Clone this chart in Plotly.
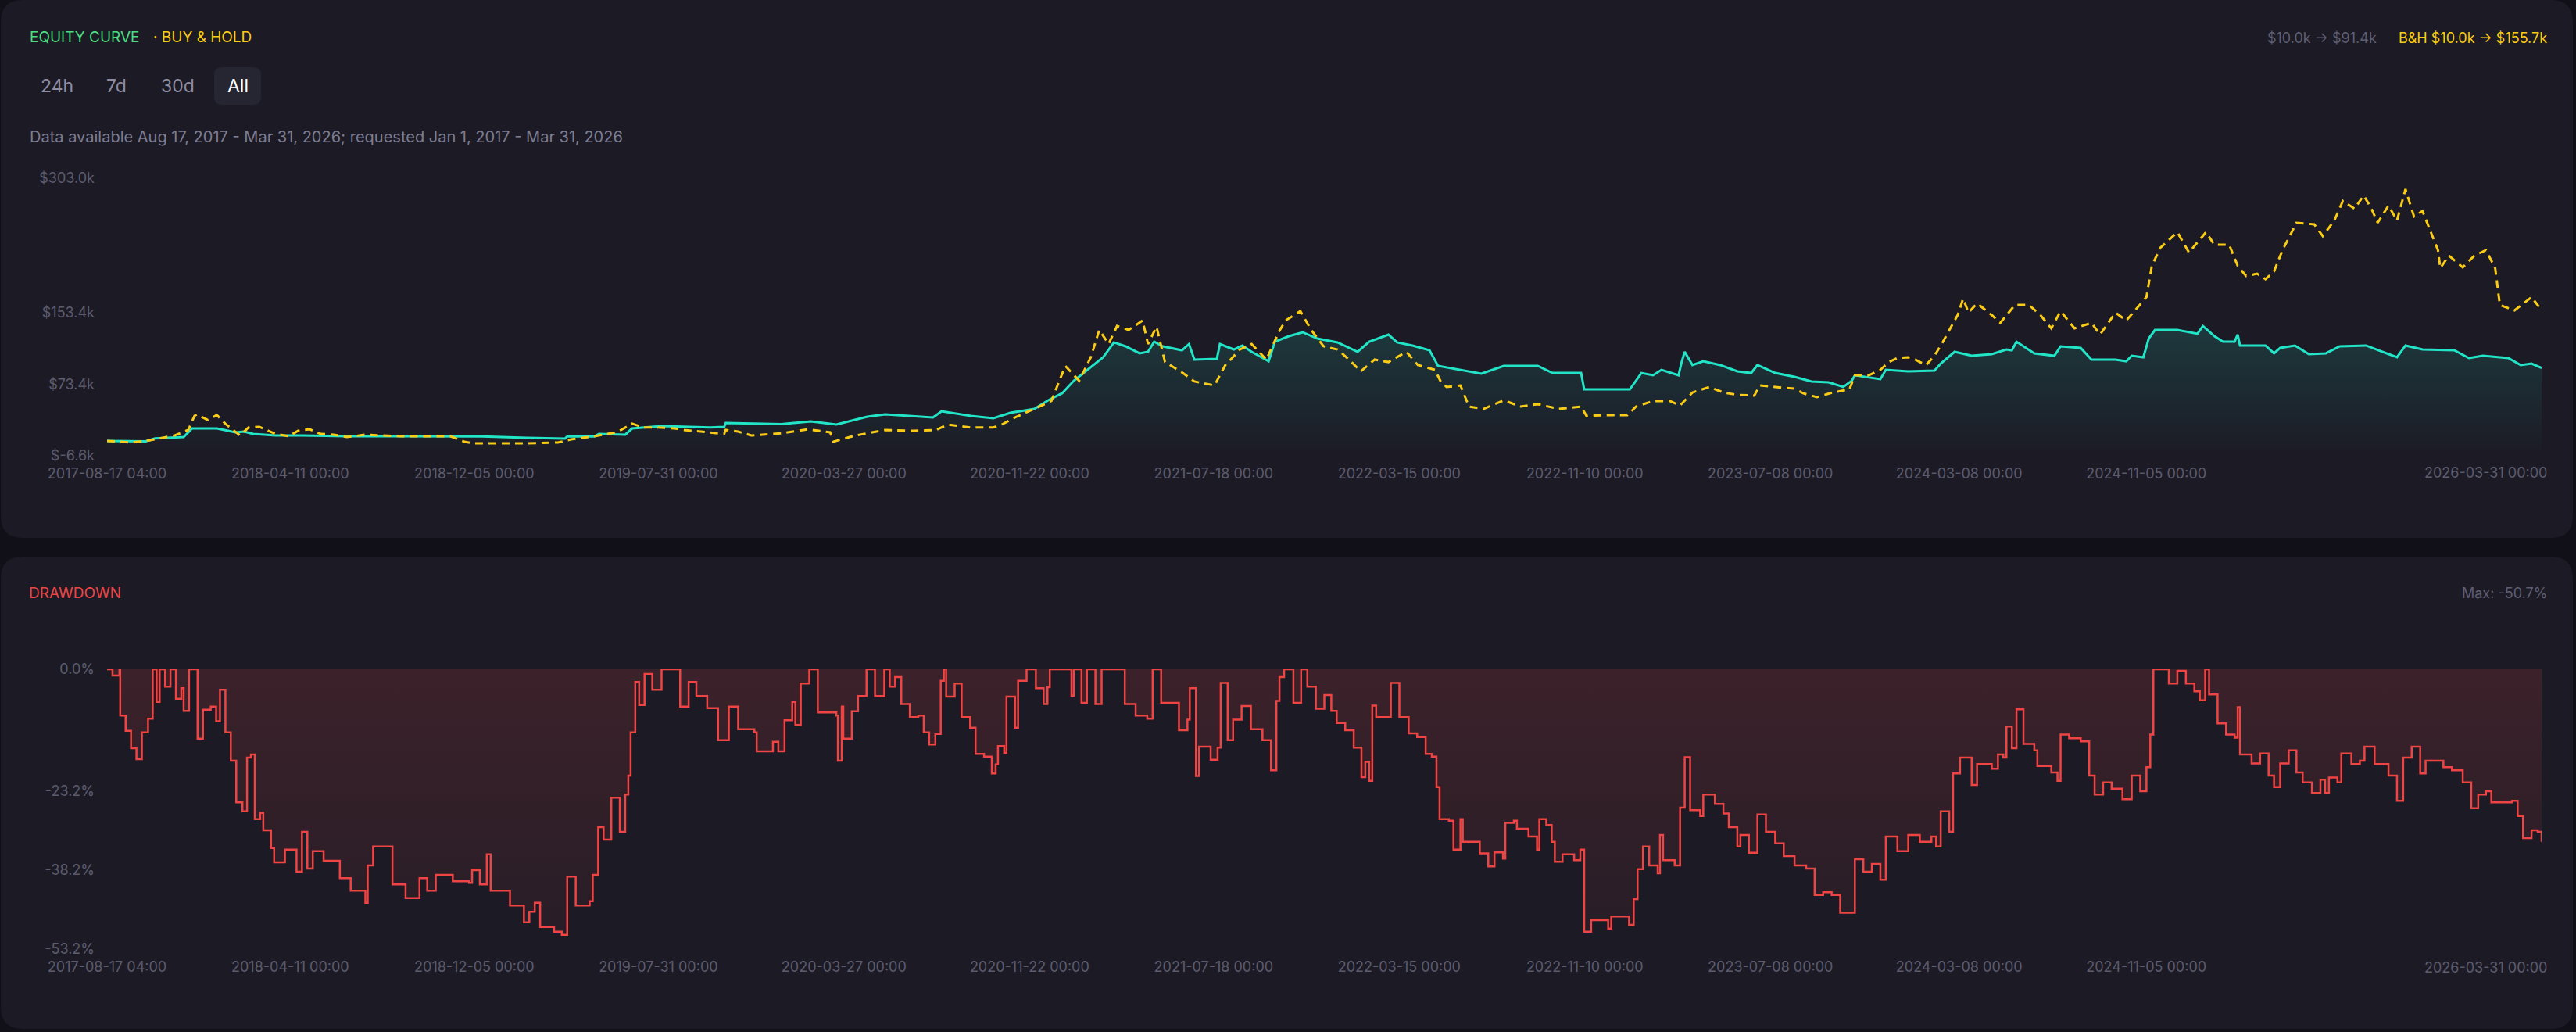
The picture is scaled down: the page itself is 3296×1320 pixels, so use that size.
import pandas as pd
import plotly.graph_objects as go

# canvas
W, H = 3296, 1320
PAGE = "#111018"
CARD = "#1c1b25"
TEAL = "#22e5c8"
GOLD = "#facc15"
RED = "#ef4444"
GREY = "#5c5b6e"

start = pd.Timestamp("2017-08-17 04:00")

# strategy equity, (days since start, value in $k)
eq_points = [
    (0, 10.0), (50, 9.5), (62, 12.8), (99, 14.3), (110, 23.9), (142, 24.0), (166, 19.6),
    (177, 20.4), (189, 17.8), (218, 16.1), (253, 16.0), (310, 15.2), (369, 15.2), (426, 15.2),
    (485, 15.0), (543, 13.5), (592, 12.6), (595, 15.0), (630, 15.0), (636, 17.8), (670, 17.0),
    (679, 23.9), (717, 26.5), (780, 25.0), (798, 25.7), (800, 30.0), (872, 28.8), (910, 31.8),
    (943, 28.3), (983, 37.0), (1006, 39.6), (1068, 36.1), (1079, 43.1), (1117, 37.9),
    (1146, 35.3), (1168, 41.3), (1199, 45.7), (1217, 55.3), (1235, 63.2), (1250, 77.1),
    (1268, 89.3), (1288, 103.3), (1302, 119.9), (1317, 115.5), (1335, 107.7), (1346, 109.4),
    (1354, 120.7), (1365, 115.5), (1390, 111.1), (1399, 118.1), (1406, 100.7), (1435, 101.5),
    (1439, 118.1), (1457, 112.0), (1468, 116.4), (1480, 109.4), (1502, 98.9), (1510, 120.7),
    (1528, 126.8), (1546, 131.2), (1565, 124.2), (1591, 119.9), (1617, 109.4), (1632, 120.7),
    (1657, 128.6), (1668, 119.9), (1688, 116.4), (1710, 111.1), (1721, 93.7), (1750, 89.3),
    (1777, 85.0), (1806, 93.7), (1850, 93.7), (1869, 85.8), (1906, 85.8), (1910, 67.5),
    (1969, 67.5), (1984, 85.8), (1999, 83.2), (2010, 89.3), (2032, 83.2), (2036, 98.0),
    (2040, 109.4), (2050, 94.6), (2064, 98.9), (2086, 94.6), (2108, 87.6), (2126, 85.8),
    (2134, 94.6), (2157, 85.8), (2182, 81.5), (2204, 76.3), (2226, 75.4), (2245, 70.2),
    (2256, 77.1), (2260, 83.2), (2293, 78.9), (2300, 89.3), (2329, 87.6), (2363, 88.5),
    (2371, 96.3), (2389, 109.4), (2411, 105.0), (2437, 106.8), (2456, 112.0), (2463, 111.1),
    (2469, 120.7), (2492, 107.7), (2518, 105.0), (2526, 115.5), (2552, 113.8), (2566, 100.7),
    (2597, 100.7), (2611, 98.9), (2618, 105.0), (2633, 103.3), (2640, 124.2), (2648, 133.8),
    (2677, 133.8), (2703, 129.5), (2710, 138.2), (2725, 126.8), (2736, 120.7), (2751, 120.7),
    (2755, 128.6), (2758, 116.4), (2791, 116.4), (2802, 107.7), (2810, 113.8), (2829, 116.4),
    (2847, 106.8), (2869, 107.7), (2887, 115.5), (2921, 116.4), (2961, 103.3), (2972, 116.4),
    (2994, 112.0), (3035, 111.1), (3054, 102.4), (3072, 105.0), (3105, 102.4), (3121, 94.6),
    (3135, 96.3), (3148, 91.4),
]

# buy & hold equity, (days since start, value in $k)
bh_points = [
    (0, 10.0), (32, 8.2), (56, 10.8), (87, 16.0), (105, 22.2), (113, 37.9), (116, 39.6),
    (130, 33.5), (142, 38.8), (154, 28.3), (172, 16.1), (183, 25.0), (197, 25.7), (218, 17.8),
    (235, 15.2), (247, 21.3), (262, 23.0), (276, 17.8), (293, 17.0), (310, 14.3), (334, 17.0),
    (357, 16.1), (380, 15.2), (415, 15.2), (444, 15.2), (462, 9.1), (473, 7.4), (496, 7.4),
    (543, 7.4), (583, 8.2), (600, 11.7), (630, 15.2), (659, 19.6), (679, 29.2), (693, 25.0),
    (710, 25.0), (734, 24.0), (746, 22.2), (775, 19.6), (798, 17.8), (800, 22.2), (816, 20.4),
    (833, 16.1), (872, 18.5), (906, 23.0), (935, 19.6), (939, 9.1), (968, 16.1), (1006, 22.2),
    (1043, 21.3), (1072, 22.2), (1087, 28.3), (1117, 25.0), (1146, 25.0), (1157, 28.3),
    (1176, 37.0), (1199, 45.7), (1221, 54.5), (1239, 93.7), (1257, 77.1), (1272, 103.3),
    (1283, 133.8), (1295, 118.1), (1306, 138.2), (1321, 133.8), (1339, 144.3), (1346, 118.1),
    (1357, 137.3), (1368, 98.0), (1391, 85.8), (1406, 76.3), (1432, 71.9), (1446, 94.6),
    (1465, 112.0), (1480, 118.1), (1499, 100.7), (1516, 133.0), (1524, 144.3), (1543, 154.8),
    (1550, 144.3), (1557, 133.8), (1573, 115.5), (1591, 112.0), (1606, 100.7), (1621, 87.6),
    (1639, 100.7), (1657, 98.0), (1680, 109.4), (1695, 94.6), (1717, 89.3), (1724, 77.1),
    (1732, 70.2), (1750, 71.9), (1761, 48.3), (1780, 45.7), (1806, 55.3), (1828, 48.3),
    (1850, 51.0), (1877, 45.7), (1906, 48.3), (1913, 37.9), (1939, 38.8), (1966, 38.8),
    (1977, 48.3), (1999, 54.5), (2021, 54.5), (2034, 49.5), (2050, 64.0), (2072, 70.2),
    (2090, 64.0), (2108, 61.4), (2130, 60.6), (2137, 71.9), (2168, 69.3), (2182, 68.4),
    (2193, 63.2), (2211, 58.8), (2231, 64.0), (2253, 67.5), (2260, 83.2), (2278, 83.2),
    (2293, 89.3), (2304, 98.0), (2315, 102.4), (2329, 103.3), (2338, 100.7), (2352, 94.6),
    (2363, 105.0), (2374, 120.7), (2385, 138.2), (2393, 150.4), (2400, 168.7), (2407, 153.1),
    (2418, 163.5), (2437, 150.4), (2448, 141.7), (2467, 161.7), (2485, 161.7), (2500, 150.4),
    (2514, 135.6), (2526, 154.8), (2544, 135.6), (2566, 141.7), (2577, 128.6), (2597, 153.1),
    (2611, 144.3), (2626, 159.1), (2637, 170.4), (2644, 205.3), (2655, 225.4), (2677, 242.8),
    (2692, 220.2), (2714, 242.8), (2725, 228.9), (2744, 228.9), (2755, 205.3), (2766, 194.0),
    (2780, 196.6), (2791, 190.5), (2802, 199.2), (2813, 222.8), (2831, 253.3), (2854, 251.6),
    (2865, 238.5), (2880, 255.9), (2891, 277.7), (2906, 269.0), (2918, 283.8), (2928, 269.0),
    (2936, 253.3), (2950, 272.5), (2961, 255.9), (2972, 290.8), (2983, 260.3), (2994, 266.4),
    (3006, 240.2), (3014, 222.8), (3017, 202.7), (3028, 216.7), (3046, 203.6), (3061, 216.7),
    (3076, 222.8), (3088, 202.7), (3094, 161.7), (3113, 155.6), (3135, 170.4), (3148, 155.7),
]

# drawdown of the strategy, (days since start, percent)
dd_points = [
    (0, 0.0), (7, -1.2), (16, 0.0), (17, -8.8), (24, -11.7), (31, -15.0), (38, -17.1),
    (45, -12.0), (53, -9.4), (59, 0.0), (64, -6.2), (68, 0.0), (75, -3.3), (82, 0.0),
    (89, -5.6), (96, -3.6), (99, -7.9), (106, 0.0), (115, 0.0), (117, -13.2), (124, -7.7),
    (134, -7.1), (141, -9.9), (146, -3.9), (153, -12.0), (160, -17.4), (167, -25.3),
    (175, -27.0), (181, -16.8), (186, -16.2), (191, -28.5), (198, -27.3), (202, -30.6),
    (212, -34.0), (216, -36.7), (230, -34.3), (245, -38.5), (252, -30.9), (259, -37.9),
    (266, -34.6), (280, -36.4), (301, -39.7), (315, -42.1), (334, -44.4), (337, -37.3),
    (344, -33.7), (365, -33.7), (369, -40.9), (386, -43.5), (404, -39.7), (414, -42.1),
    (425, -39.1), (447, -40.3), (468, -40.6), (472, -38.2), (482, -40.9), (491, -35.2),
    (496, -42.1), (521, -44.9), (539, -48.1), (546, -46.1), (553, -44.4), (560, -49.0),
    (578, -49.9), (588, -50.5), (595, -39.4), (606, -44.9), (624, -44.1), (628, -39.1),
    (635, -30.0), (642, -32.4), (652, -24.4), (663, -30.9), (670, -23.8), (674, -20.2),
    (677, -12.0), (683, -2.4), (688, -6.8), (695, -0.9), (705, -3.9), (717, 0.0), (734, 0.0),
    (741, -7.1), (752, -2.4), (762, -5.1), (776, -7.4), (790, -13.5), (804, -7.1), (816, -11.4),
    (837, -12.0), (840, -15.6), (861, -13.8), (868, -15.6), (876, -9.7), (886, -6.2),
    (890, -10.6), (897, -2.7), (908, 0.0), (919, -8.2), (943, -8.8), (945, -17.4), (950, -7.1),
    (952, -13.2), (963, -8.0), (971, -5.1), (982, 0.0), (993, -5.1), (1005, 0.0), (1012, -3.3),
    (1019, -1.5), (1027, -6.6), (1038, -9.1), (1049, -8.8), (1056, -12.0), (1063, -14.3),
    (1071, -12.3), (1078, -2.2), (1082, 0.0), (1085, -5.2), (1096, -2.7), (1105, -9.1),
    (1116, -11.1), (1123, -16.1), (1134, -16.6), (1144, -19.8), (1149, -18.1), (1152, -14.6),
    (1160, -15.9), (1163, -5.2), (1174, -11.1), (1178, -2.2), (1189, 0.0), (1201, -3.6),
    (1211, -6.6), (1216, -3.4), (1219, 0.0), (1245, 0.0), (1247, -5.0), (1250, 0.0),
    (1260, -6.4), (1267, 0.0), (1278, -6.6), (1286, 0.0), (1305, 0.0), (1316, -6.6),
    (1330, -8.8), (1345, -9.4), (1352, 0.0), (1363, -6.4), (1374, -6.4), (1386, -11.6),
    (1397, -9.6), (1400, -3.6), (1408, -20.3), (1412, -14.7), (1427, -17.2), (1436, -14.9),
    (1440, -2.6), (1449, -13.5), (1456, -9.6), (1467, -7.0), (1479, -11.4), (1494, -13.5),
    (1505, -19.2), (1512, -6.0), (1516, -1.5), (1522, 0.0), (1530, 0.0), (1534, -6.4),
    (1544, 0.0), (1552, -3.3), (1563, -7.5), (1574, -4.9), (1583, -7.9), (1590, -10.2),
    (1601, -11.6), (1612, -14.9), (1622, -20.5), (1627, -17.6), (1632, -21.2), (1636, -6.9),
    (1641, -9.1), (1656, -9.1), (1660, -2.6), (1668, -2.6), (1671, -9.1), (1683, -12.2),
    (1694, -12.9), (1705, -16.1), (1713, -16.6), (1719, -22.4), (1723, -28.5), (1735, -28.8),
    (1741, -34.3), (1750, -28.5), (1753, -32.8), (1772, -32.8), (1775, -35.0), (1786, -37.5),
    (1794, -34.8), (1805, -36.0), (1808, -29.2), (1819, -28.8), (1823, -30.3), (1838, -31.8),
    (1849, -34.3), (1852, -28.5), (1861, -29.6), (1868, -32.8), (1872, -36.6), (1882, -35.2),
    (1897, -36.3), (1905, -34.3), (1910, -49.9), (1919, -47.7), (1941, -49.3), (1945, -47.0),
    (1968, -48.6), (1974, -43.7), (1979, -38.0), (1986, -33.7), (1994, -37.3), (2005, -38.8),
    (2008, -31.5), (2012, -36.3), (2027, -37.3), (2034, -26.3), (2040, -16.7), (2047, -26.8),
    (2060, -27.9), (2064, -23.8), (2079, -25.6), (2090, -27.4), (2097, -30.0), (2108, -33.7),
    (2112, -31.5), (2123, -34.9), (2134, -27.6), (2145, -30.9), (2157, -33.1), (2168, -35.5),
    (2182, -37.3), (2197, -37.9), (2208, -42.9), (2219, -42.4), (2230, -42.9), (2241, -46.3),
    (2250, -46.3), (2260, -36.1), (2271, -38.5), (2282, -37.0), (2293, -40.0), (2300, -31.8),
    (2315, -34.6), (2329, -31.5), (2344, -32.8), (2359, -31.8), (2365, -33.7), (2371, -27.0),
    (2382, -30.9), (2387, -19.8), (2396, -16.8), (2411, -22.0), (2418, -18.0), (2437, -18.9),
    (2445, -16.2), (2452, -16.8), (2456, -10.9), (2463, -15.0), (2469, -7.6), (2478, -14.2),
    (2492, -15.4), (2496, -18.4), (2514, -19.6), (2522, -21.2), (2526, -12.4), (2537, -13.1),
    (2552, -13.7), (2563, -20.2), (2570, -23.8), (2581, -21.5), (2592, -22.7), (2606, -24.7),
    (2618, -20.2), (2629, -23.2), (2637, -18.6), (2642, -12.4), (2646, 0.0), (2659, 0.0),
    (2666, -2.7), (2677, -0.3), (2688, -2.7), (2699, -4.2), (2706, -5.9), (2713, 0.0),
    (2718, -4.8), (2729, -10.3), (2740, -12.4), (2751, -13.0), (2755, -7.2), (2758, -16.2),
    (2773, -17.9), (2784, -16.0), (2795, -20.2), (2802, -22.4), (2810, -17.9), (2821, -15.4),
    (2831, -19.6), (2839, -21.5), (2851, -23.5), (2862, -21.0), (2868, -23.5), (2873, -20.6),
    (2884, -21.5), (2889, -16.0), (2902, -18.0), (2913, -17.4), (2919, -14.7), (2932, -18.0),
    (2950, -20.2), (2961, -25.0), (2969, -16.8), (2980, -14.7), (2991, -19.8), (2998, -17.4),
    (3021, -18.6), (3032, -19.2), (3046, -21.5), (3057, -26.4), (3066, -23.8), (3076, -23.2),
    (3083, -25.3), (3110, -25.0), (3117, -27.9), (3124, -32.1), (3135, -30.6), (3143, -30.9),
    (3148, -32.8),
]

# axis ticks
x_tick_dates = ["2017-08-17 04:00", "2018-04-11", "2018-12-05", "2019-07-31", "2020-03-27",
                "2020-11-22", "2021-07-18", "2022-03-15", "2022-11-10", "2023-07-08",
                "2024-03-08", "2024-11-05"]
x_tick_text = ["2017-08-17 04:00", "2018-04-11 00:00", "2018-12-05 00:00", "2019-07-31 00:00",
               "2020-03-27 00:00", "2020-11-22 00:00", "2021-07-18 00:00", "2022-03-15 00:00",
               "2022-11-10 00:00", "2023-07-08 00:00", "2024-03-08 00:00", "2024-11-05 00:00"]
last_tick_text = "2026-03-31 00:00"
eq_ticks = [-6.6, 73.4, 153.4, 303.0]
eq_tick_text = ["$-6.6k", "$73.4k", "$153.4k", "$303.0k"]
dd_ticks = [0.0, -23.2, -38.2, -53.2]
dd_tick_text = ["0.0%", "-23.2%", "-38.2%", "-53.2%"]


def to_dates(points):
    return start + pd.to_timedelta([p[0] for p in points], unit="D")


eq_x, eq_y = to_dates(eq_points), [p[1] for p in eq_points]
bh_x, bh_y = to_dates(bh_points), [p[1] for p in bh_points]
dd_x, dd_y = to_dates(dd_points), [p[1] for p in dd_points]
end = eq_x[-1]


def px(x):
    return x / W


def py(y):
    return 1 - y / H


def rounded(x0, y0, x1, y1, r):
    # rounded rectangle in pixel coords (top-left origin) -> paper path
    pts = [
        ("M", x0 + r, y0), ("L", x1 - r, y0), ("Q", x1, y0, x1, y0 + r),
        ("L", x1, y1 - r), ("Q", x1, y1, x1 - r, y1), ("L", x0 + r, y1),
        ("Q", x0, y1, x0, y1 - r), ("L", x0, y0 + r), ("Q", x0, y0, x0 + r, y0),
    ]
    out = []
    for p in pts:
        cmd, nums = p[0], p[1:]
        coords = []
        for i in range(0, len(nums), 2):
            coords.append(f"{px(nums[i]):.5f},{py(nums[i + 1]):.5f}")
        out.append(cmd + " " + " ".join(coords))
    return " ".join(out) + " Z"


fig = go.Figure()

fig.add_trace(go.Scatter(
    x=eq_x, y=eq_y, mode="lines", name="Equity",
    line=dict(color=TEAL, width=3),
    fill="tozeroy",
    fillgradient=dict(type="vertical", start=-6.6, stop=140,
                      colorscale=[[0, "rgba(34,229,200,0.0)"], [1, "rgba(34,229,200,0.15)"]]),
    xaxis="x", yaxis="y",
))
fig.add_trace(go.Scatter(
    x=bh_x, y=bh_y, mode="lines", name="Buy & Hold",
    line=dict(color=GOLD, width=3, dash="10px,7px"),
    xaxis="x", yaxis="y",
))
fig.add_trace(go.Scatter(
    x=dd_x, y=dd_y, mode="lines", name="Drawdown",
    line=dict(color=RED, width=2.5, shape="hv"),
    fill="tozeroy",
    fillgradient=dict(type="vertical", start=-53.2, stop=0,
                      colorscale=[[0, "rgba(239,68,68,0.05)"], [1, "rgba(239,68,68,0.15)"]]),
    xaxis="x2", yaxis="y2",
))

x_dom = [px(137), px(3252)]
axis_font = dict(family="Inter", size=18, color=GREY)
xcommon = dict(domain=x_dom, range=[start, end], showgrid=False, zeroline=False, showline=False,
               ticks="", tickmode="array", tickvals=x_tick_dates, ticktext=x_tick_text,
               tickfont=axis_font, ticklabelstandoff=10, automargin=False)
ycommon = dict(showgrid=False, zeroline=False, showline=False, ticks="", tickmode="array",
               tickfont=axis_font, ticklabelstandoff=15, automargin=False)

fig.update_layout(
    width=W, height=H,
    margin=dict(l=0, r=0, t=0, b=0, autoexpand=False),
    paper_bgcolor=PAGE, plot_bgcolor="rgba(0,0,0,0)",
    showlegend=False,
    font=dict(family="Inter"),
    xaxis=dict(anchor="y", **xcommon),
    yaxis=dict(anchor="x", domain=[py(583), py(228)], range=[-6.6, 303.0],
               tickvals=eq_ticks, ticktext=eq_tick_text, **ycommon),
    xaxis2=dict(anchor="y2", **xcommon),
    yaxis2=dict(anchor="x2", domain=[py(1214), py(856)], range=[-53.2, 0.0],
                tickvals=dd_ticks, ticktext=dd_tick_text, **ycommon),
)

# cards and the selected range button
shapes = [
    dict(type="path", path=rounded(1, 0, 3292, 688, 28), xref="paper", yref="paper",
         fillcolor=CARD, line=dict(width=0), layer="below"),
    dict(type="path", path=rounded(1, 712, 3292, 1316, 28), xref="paper", yref="paper",
         fillcolor=CARD, line=dict(width=0), layer="below"),
    dict(type="path", path=rounded(274, 86, 334, 134, 10), xref="paper", yref="paper",
         fillcolor="#262532", line=dict(width=0), layer="below"),
]
fig.update_layout(shapes=shapes)


def note(text, x, y, color, size, anchor="left", **kw):
    fig.add_annotation(text=text, x=px(x), y=py(y), xref="paper", yref="paper",
                       xanchor=anchor, yanchor="middle", showarrow=False,
                       font=dict(family="Inter", size=size, color=color), **kw)


note("EQUITY CURVE", 36, 47, "#4ade80", 19)
note("· BUY &amp; HOLD", 194, 47, GOLD, 19)
note("$10.0k → $91.4k", 3043, 48, "#5f5e72", 18, anchor="right")
note("B&amp;H $10.0k → $155.7k", 3261, 48, GOLD, 18, anchor="right")
note("24h", 73, 110, "#8d8ca2", 23, anchor="center")
note("7d", 149, 110, "#8d8ca2", 23, anchor="center")
note("30d", 227, 110, "#8d8ca2", 23, anchor="center")
note("All", 304, 110, "#ffffff", 23, anchor="center")
note("Data available Aug 17, 2017 - Mar 31, 2026; requested Jan 1, 2017 - Mar 31, 2026",
     36, 175, "#7e7d92", 20)
note("DRAWDOWN", 35, 759, RED, 19)
note("Max: -50.7%", 3261, 759, "#5f5e72", 18, anchor="right")

# last x tick label sits right-aligned at the end of the data
for ref, ypix in (("x", 605), ("x2", 1237)):
    fig.add_annotation(text=last_tick_text, x=end, xref=ref, y=py(ypix), yref="paper",
                       xanchor="right", yanchor="middle", xshift=9, showarrow=False,
                       font=axis_font)

fig.write_html("out.html", config={"displayModeBar": False},
               post_script="document.body.style.margin='0';")
